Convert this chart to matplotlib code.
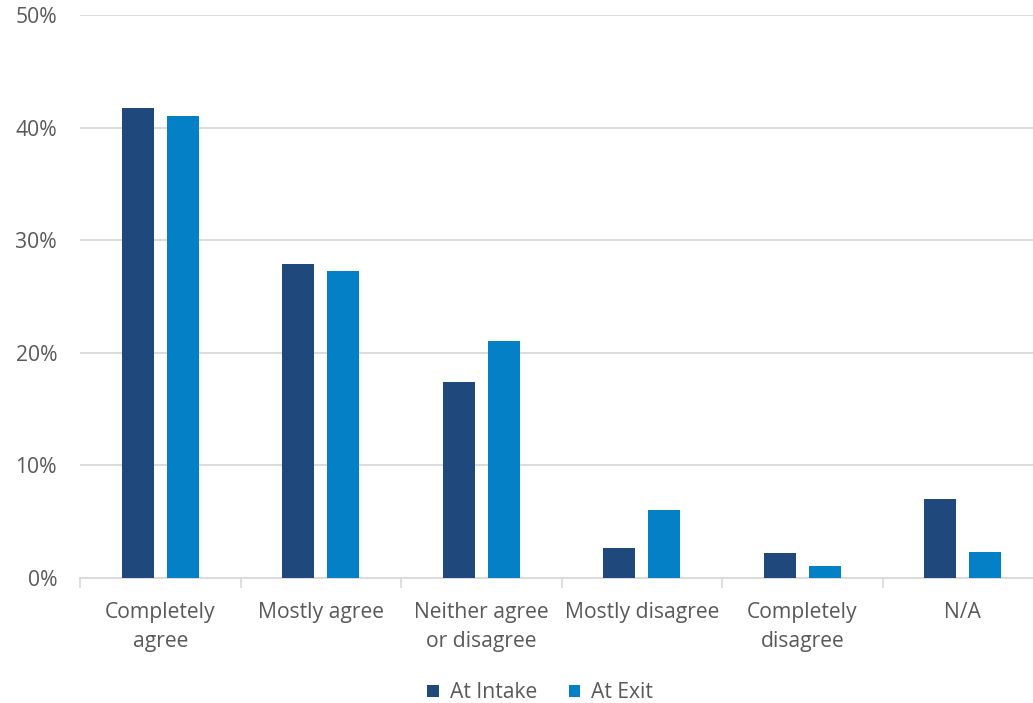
import matplotlib
matplotlib.use("Agg")
import matplotlib.pyplot as plt
import numpy as np

categories = ["Completely\nagree", "Mostly agree", "Neither agree\nor disagree",
              "Mostly disagree", "Completely\ndisagree", "N/A"]
at_intake = [41.7, 27.9, 17.4, 2.7, 2.2, 7.0]
at_exit = [41.0, 27.3, 21.05, 6.05, 1.05, 2.35]
series_names = ["At Intake", "At Exit"]
yticks = [0, 10, 20, 30, 40, 50]

plt.rcParams['font.family'] = ['Open Sans', 'DejaVu Sans']
c_intake = "#1F497D"
c_exit = "#0481C6"
text_c = "#595959"
fs = 15.2

fig = plt.figure(figsize=(10.33, 7.03), dpi=100)
ax = fig.add_axes([80/1033, 1-578/703, 963/1033, 563/703])

x = np.arange(len(categories))
w = 0.2
ax.bar(x - 0.14, at_intake, w, color=c_intake, label=series_names[0], zorder=3)
ax.bar(x + 0.14, at_exit, w, color=c_exit, label=series_names[1], zorder=3)

ax.set_xlim(-0.5, len(categories) - 0.5)
ax.set_ylim(0, 50)
ax.set_yticks(yticks)
ax.set_yticklabels([f"{v}%" for v in yticks])
ax.yaxis.grid(True, color="#D9D9D9", linewidth=1.3, zorder=0)
ax.set_axisbelow(True)

ax.set_xticks(x)
ax.set_xticklabels(categories, linespacing=1.45)
ax.set_xticks(np.arange(-0.5, len(categories), 1), minor=True)
ax.tick_params(axis='x', which='major', length=0, pad=17.5, labelsize=fs, colors=text_c)
ax.tick_params(axis='x', which='minor', length=7, width=1.2, color="#D9D9D9")
ax.tick_params(axis='y', length=0, pad=16.5, labelsize=fs, colors=text_c)
for lab in ax.get_xticklabels():
    lab.set_verticalalignment('top')

for s in ['top', 'right', 'left']:
    ax.spines[s].set_visible(False)
ax.spines['bottom'].set_color("#D9D9D9")
ax.spines['bottom'].set_linewidth(1.3)

leg = fig.legend(loc='center', bbox_to_anchor=(540/1033, 1-693/703), ncol=2,
                 frameon=False, fontsize=fs, handlelength=0.55, handleheight=0.55,
                 handletextpad=0.5, columnspacing=1.5)
for t in leg.get_texts():
    t.set_color(text_c)

fig.savefig("out.png", dpi=100)
